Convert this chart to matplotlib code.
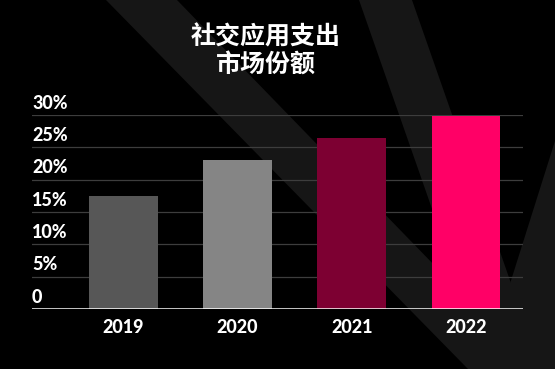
import numpy as np
import matplotlib
matplotlib.use("Agg")
import matplotlib.pyplot as plt
from matplotlib.patches import Polygon
from matplotlib.transforms import blended_transform_factory

# data
years = ["2019", "2020", "2021", "2022"]
share = [17.4, 23.1, 26.5, 29.8]
bar_colors = ["#575757", "#858585", "#7d0032", "#ff0066"]
ytick_vals = [0, 5, 10, 15, 20, 25, 30]
ytick_labels = ["0", "5%", "10%", "15%", "20%", "25%", "30%"]
title = "社交应用支出\n市场份额"

W, H = 555, 369
BG = "#000000"
STRIPE = "#161616"

# background stripes (pixel coords, y down)
stripes = [
    [(106, 0), (177, 0), (535, 369), (468, 369)],
    [(359, 0), (412, 0), (541, 369), (488, 369)],
    [(555, 141), (555, 369), (485, 369), (508, 290)],
]

fig = plt.figure(figsize=(W / 100, H / 100), dpi=100)
fig.patch.set_facecolor(BG)

bg = fig.add_axes([0, 0, 1, 1], zorder=0)
bg.set_xlim(0, W)
bg.set_ylim(H, 0)
bg.axis("off")
for pts in stripes:
    bg.add_patch(Polygon(pts, closed=True, color=STRIPE, lw=0))

ax = fig.add_axes([32 / W, 1 - 309 / H, 491 / W, 194 / H], zorder=1)
ax.patch.set_alpha(0)

x = np.arange(len(years))
ax.bar(x, share, width=0.6, color=bar_colors, zorder=3)

ax.set_xlim(-0.80, 3.50)
ax.set_ylim(0, 30)

for v in ytick_vals[1:]:
    ax.axhline(v, color="#3d3d3d", lw=0.9, zorder=1)
ax.axhline(0, color="white", lw=1.8, zorder=4)

for s in ax.spines.values():
    s.set_visible(False)

ax.set_yticks([])
ax.set_xticks(x)
ax.set_xticklabels(years, fontfamily="Lato", fontweight="black",
                   fontsize=13, color="white")
ax.tick_params(axis="x", length=0, pad=7.5)

tr = blended_transform_factory(ax.transAxes, ax.transData)
for v, lab in zip(ytick_vals, ytick_labels):
    ax.annotate(lab, xy=(0, v), xycoords=tr, xytext=(0, 4.5),
                textcoords="offset points", ha="left", va="baseline",
                fontfamily="Lato", fontweight="black", fontsize=13,
                color="white")

fig.text(266 / W, 1 - 51 / H, title, ha="center", va="center",
         fontfamily=["Noto Sans CJK SC", "DejaVu Sans"], fontweight="bold",
         fontsize=18, color="white", linespacing=1.2)

fig.savefig("out.png", dpi=100, facecolor=BG)
